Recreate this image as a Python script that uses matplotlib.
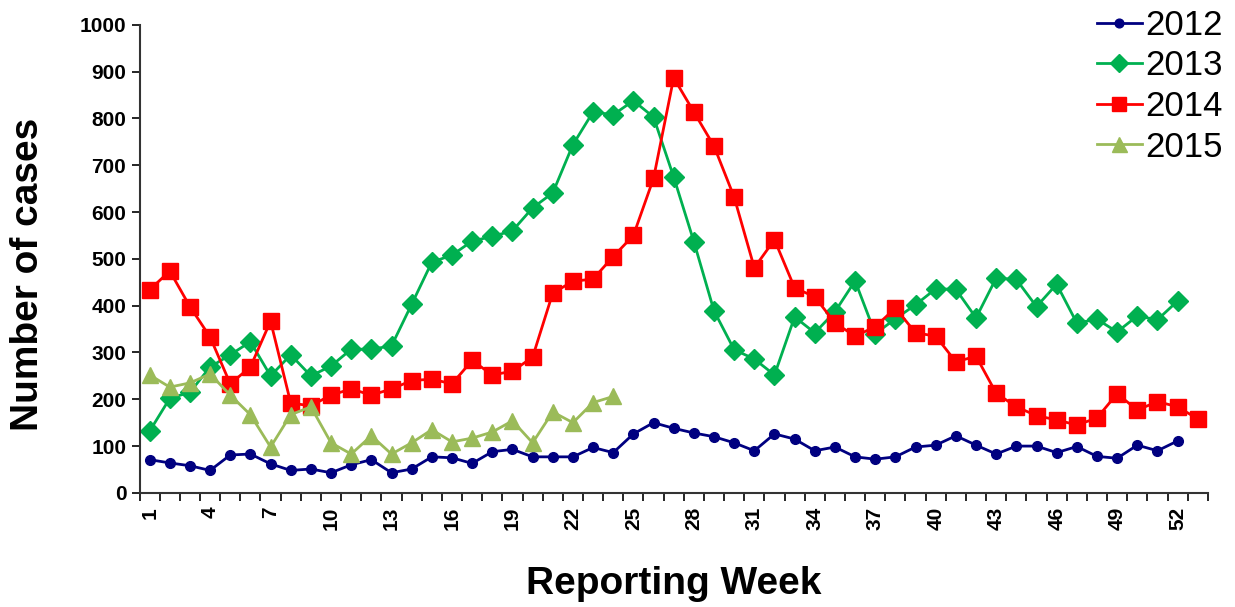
import matplotlib.pyplot as plt
import numpy as np

plt.rcParams['font.family'] = ['Liberation Sans', 'DejaVu Sans']

weeks_2012 = list(range(1, 53))
cases_2012 = [71, 64, 58, 48, 81, 83, 62, 48, 51, 43,
              60, 71, 43, 51, 77, 75, 63, 88, 93, 77,
              77, 77, 97, 86, 126, 150, 138, 128, 120, 107,
              90, 126, 115, 90, 98, 77, 72, 77, 98, 102,
              122, 102, 83, 100, 100, 86, 99, 78, 74, 102,
              90, 111]

weeks_2013 = list(range(1, 53))
cases_2013 = [132, 202, 215, 269, 295, 323, 250, 295, 250, 271,
              307, 307, 314, 403, 493, 508, 538, 548, 560, 609,
              641, 744, 814, 808, 838, 803, 675, 537, 389, 306,
              286, 252, 376, 342, 387, 453, 340, 372, 402, 436,
              435, 374, 459, 456, 398, 446, 363, 371, 344, 378,
              370, 410]

weeks_2014 = list(range(1, 54))
cases_2014 = [434, 474, 398, 333, 233, 269, 367, 192, 186, 209,
              222, 209, 222, 240, 243, 233, 283, 252, 260, 290,
              427, 452, 457, 505, 550, 672, 887, 814, 741, 632,
              481, 541, 438, 419, 363, 335, 355, 395, 342, 335,
              280, 292, 213, 184, 165, 156, 145, 160, 212, 177,
              195, 184, 158]

weeks_2015 = list(range(1, 25))
cases_2015 = [252, 226, 235, 254, 209, 167, 98, 167, 184, 107,
              83, 122, 83, 107, 135, 109, 117, 130, 154, 107,
              173, 150, 193, 206]

week_labels = list(range(1, 53, 3))

fig = plt.figure(figsize=(12.35, 6.07), dpi=100)
ax = fig.add_axes([0.113, 0.188, 0.865, 0.771])

ax.plot(weeks_2012, cases_2012, color='#000080', marker='o', markersize=7, lw=2, label='2012')
ax.plot(weeks_2013, cases_2013, color='#00B050', marker='D', markersize=10, lw=2, label='2013')
ax.plot(weeks_2014, cases_2014, color='#FF0000', marker='s', markersize=11, lw=2, label='2014')
ax.plot(weeks_2015, cases_2015, color='#9BBB59', marker='^', markersize=12, lw=2, label='2015')

ax.set_xlim(0.5, 53.5)
ax.set_ylim(0, 1000)
ax.set_yticks(np.arange(0, 1001, 100))

# ticks between weeks, labels every third week
ax.set_xticks(np.arange(0.5, 54, 1))
ax.set_xticklabels([])
ax.set_xticks(week_labels, minor=True)
ax.set_xticklabels([str(w) for w in week_labels], minor=True, rotation=90,
                   fontsize=15, fontweight='bold')
ax.tick_params(axis='x', which='minor', length=0, pad=10)
ax.tick_params(axis='x', which='major', length=6, direction='out', width=1.2)
ax.tick_params(axis='y', length=6, direction='out', width=1.2, labelsize=15)
for lab in ax.get_yticklabels():
    lab.set_fontweight('bold')

ax.spines['right'].set_color('none')
ax.spines['top'].set_color('none')
ax.spines['left'].set_linewidth(1.5)
ax.spines['bottom'].set_linewidth(1.5)
ax.spines['left'].set_color('#333333')
ax.spines['bottom'].set_color('#333333')

ax.set_ylabel('Number of cases', fontsize=28, fontweight='bold')
ax.yaxis.set_label_coords(-0.088, 0.466)
ax.set_xlabel('Reporting Week', fontsize=28, fontweight='bold', labelpad=26)

fig.legend(loc='upper right', bbox_to_anchor=(1.007, 1.02), frameon=False,
           fontsize=25, handlelength=1.3, handletextpad=0.1, labelspacing=0.22,
           borderpad=0.1, markerscale=0.9)

fig.savefig('out.png', dpi=100)
